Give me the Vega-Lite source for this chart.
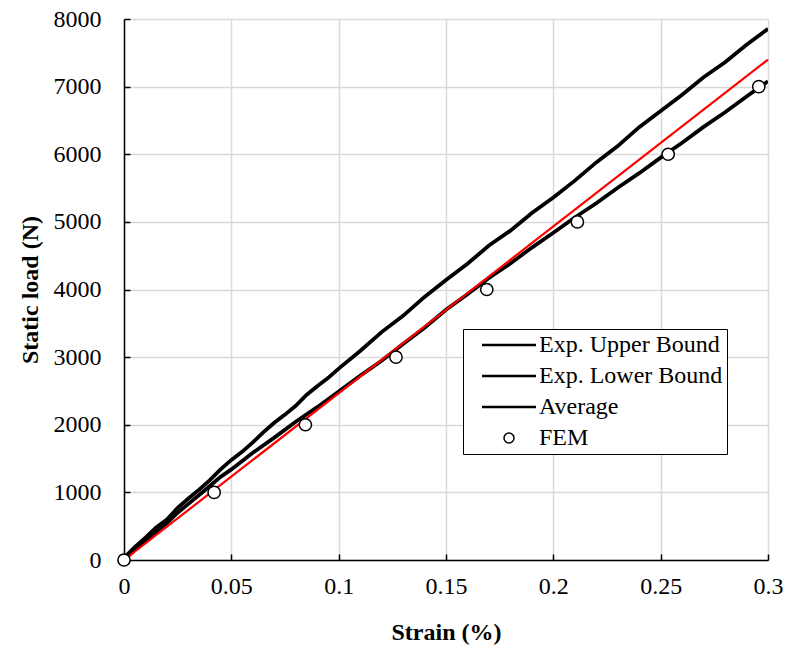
{
  "$schema": "https://vega.github.io/schema/vega-lite/v6.json",
  "width": 644,
  "height": 541,
  "autosize": {"type": "none"},
  "padding": {"left": 124, "top": 19, "right": 25, "bottom": 86},
  "background": "white",
  "config": {
    "view": {"stroke": null},
    "font": "Liberation Serif",
    "axis": {
      "labelFont": "Liberation Serif",
      "labelFontSize": 24,
      "labelColor": "black",
      "labelFlush": false,
      "titleFont": "Liberation Serif",
      "titleFontSize": 24,
      "titleFontWeight": "bold",
      "titleColor": "black",
      "domainColor": "black",
      "domainWidth": 1.5,
      "tickColor": "black",
      "tickWidth": 1.5,
      "tickSize": -6,
      "gridColor": "#d9d9d9",
      "gridWidth": 1.5
    }
  },
  "datasets": {
    "bounds": [
      {"s": "Exp. Upper Bound", "x": 0, "y": 30},
      {"s": "Exp. Upper Bound", "x": 0.005, "y": 190},
      {"s": "Exp. Upper Bound", "x": 0.01, "y": 330},
      {"s": "Exp. Upper Bound", "x": 0.015, "y": 480},
      {"s": "Exp. Upper Bound", "x": 0.02, "y": 600},
      {"s": "Exp. Upper Bound", "x": 0.025, "y": 770},
      {"s": "Exp. Upper Bound", "x": 0.03, "y": 910},
      {"s": "Exp. Upper Bound", "x": 0.035, "y": 1040},
      {"s": "Exp. Upper Bound", "x": 0.04, "y": 1180},
      {"s": "Exp. Upper Bound", "x": 0.045, "y": 1340},
      {"s": "Exp. Upper Bound", "x": 0.05, "y": 1480},
      {"s": "Exp. Upper Bound", "x": 0.055, "y": 1600},
      {"s": "Exp. Upper Bound", "x": 0.06, "y": 1740},
      {"s": "Exp. Upper Bound", "x": 0.065, "y": 1890},
      {"s": "Exp. Upper Bound", "x": 0.07, "y": 2030},
      {"s": "Exp. Upper Bound", "x": 0.075, "y": 2150},
      {"s": "Exp. Upper Bound", "x": 0.08, "y": 2280},
      {"s": "Exp. Upper Bound", "x": 0.085, "y": 2440},
      {"s": "Exp. Upper Bound", "x": 0.09, "y": 2570},
      {"s": "Exp. Upper Bound", "x": 0.095, "y": 2690},
      {"s": "Exp. Upper Bound", "x": 0.1, "y": 2830},
      {"s": "Exp. Upper Bound", "x": 0.11, "y": 3090},
      {"s": "Exp. Upper Bound", "x": 0.12, "y": 3370},
      {"s": "Exp. Upper Bound", "x": 0.13, "y": 3610},
      {"s": "Exp. Upper Bound", "x": 0.14, "y": 3890},
      {"s": "Exp. Upper Bound", "x": 0.15, "y": 4140},
      {"s": "Exp. Upper Bound", "x": 0.16, "y": 4380},
      {"s": "Exp. Upper Bound", "x": 0.17, "y": 4650},
      {"s": "Exp. Upper Bound", "x": 0.18, "y": 4870},
      {"s": "Exp. Upper Bound", "x": 0.19, "y": 5130},
      {"s": "Exp. Upper Bound", "x": 0.2, "y": 5360},
      {"s": "Exp. Upper Bound", "x": 0.21, "y": 5610},
      {"s": "Exp. Upper Bound", "x": 0.22, "y": 5880},
      {"s": "Exp. Upper Bound", "x": 0.23, "y": 6120},
      {"s": "Exp. Upper Bound", "x": 0.24, "y": 6400},
      {"s": "Exp. Upper Bound", "x": 0.25, "y": 6640},
      {"s": "Exp. Upper Bound", "x": 0.26, "y": 6880},
      {"s": "Exp. Upper Bound", "x": 0.27, "y": 7140},
      {"s": "Exp. Upper Bound", "x": 0.28, "y": 7360},
      {"s": "Exp. Upper Bound", "x": 0.29, "y": 7620},
      {"s": "Exp. Upper Bound", "x": 0.3, "y": 7855},
      {"s": "Exp. Lower Bound", "x": 0, "y": 0},
      {"s": "Exp. Lower Bound", "x": 0.005, "y": 150},
      {"s": "Exp. Lower Bound", "x": 0.01, "y": 280},
      {"s": "Exp. Lower Bound", "x": 0.015, "y": 420},
      {"s": "Exp. Lower Bound", "x": 0.02, "y": 545},
      {"s": "Exp. Lower Bound", "x": 0.025, "y": 700},
      {"s": "Exp. Lower Bound", "x": 0.03, "y": 830},
      {"s": "Exp. Lower Bound", "x": 0.035, "y": 960},
      {"s": "Exp. Lower Bound", "x": 0.04, "y": 1095},
      {"s": "Exp. Lower Bound", "x": 0.045, "y": 1230},
      {"s": "Exp. Lower Bound", "x": 0.05, "y": 1340},
      {"s": "Exp. Lower Bound", "x": 0.06, "y": 1585},
      {"s": "Exp. Lower Bound", "x": 0.07, "y": 1810},
      {"s": "Exp. Lower Bound", "x": 0.08, "y": 2045},
      {"s": "Exp. Lower Bound", "x": 0.09, "y": 2260},
      {"s": "Exp. Lower Bound", "x": 0.1, "y": 2490},
      {"s": "Exp. Lower Bound", "x": 0.11, "y": 2725},
      {"s": "Exp. Lower Bound", "x": 0.12, "y": 2945},
      {"s": "Exp. Lower Bound", "x": 0.13, "y": 3195},
      {"s": "Exp. Lower Bound", "x": 0.14, "y": 3435},
      {"s": "Exp. Lower Bound", "x": 0.15, "y": 3700},
      {"s": "Exp. Lower Bound", "x": 0.16, "y": 3930},
      {"s": "Exp. Lower Bound", "x": 0.17, "y": 4170},
      {"s": "Exp. Lower Bound", "x": 0.18, "y": 4385},
      {"s": "Exp. Lower Bound", "x": 0.19, "y": 4620},
      {"s": "Exp. Lower Bound", "x": 0.2, "y": 4840},
      {"s": "Exp. Lower Bound", "x": 0.21, "y": 5065},
      {"s": "Exp. Lower Bound", "x": 0.22, "y": 5275},
      {"s": "Exp. Lower Bound", "x": 0.23, "y": 5505},
      {"s": "Exp. Lower Bound", "x": 0.24, "y": 5720},
      {"s": "Exp. Lower Bound", "x": 0.25, "y": 5950},
      {"s": "Exp. Lower Bound", "x": 0.26, "y": 6170},
      {"s": "Exp. Lower Bound", "x": 0.27, "y": 6405},
      {"s": "Exp. Lower Bound", "x": 0.28, "y": 6620},
      {"s": "Exp. Lower Bound", "x": 0.29, "y": 6855},
      {"s": "Exp. Lower Bound", "x": 0.3, "y": 7080}
    ],
    "average": [
      {"s": "Average", "x": 0, "y": 0},
      {"s": "Average", "x": 0.3, "y": 7400}
    ],
    "fem": [
      {"s": "FEM", "x": 0, "y": 0},
      {"s": "FEM", "x": 0.042, "y": 1000},
      {"s": "FEM", "x": 0.0845, "y": 2000},
      {"s": "FEM", "x": 0.1267, "y": 3000},
      {"s": "FEM", "x": 0.169, "y": 4000},
      {"s": "FEM", "x": 0.2112, "y": 5000},
      {"s": "FEM", "x": 0.2535, "y": 6000},
      {"s": "FEM", "x": 0.2957, "y": 7000}
    ]
  },
  "encoding": {
    "x": {
      "field": "x",
      "type": "quantitative",
      "scale": {"domain": [0, 0.3], "nice": false},
      "axis": {
        "title": "Strain (%)",
        "values": [0, 0.05, 0.1, 0.15, 0.2, 0.25, 0.3],
        "format": "~g",
        "labelPadding": 20,
        "titleY": 72,
        "titleBaseline": "middle"
      }
    },
    "y": {
      "field": "y",
      "type": "quantitative",
      "scale": {"domain": [0, 8000], "nice": false},
      "axis": {
        "title": "Static load (N)",
        "values": [0, 1000, 2000, 3000, 4000, 5000, 6000, 7000, 8000],
        "format": "d",
        "labelPadding": 29,
        "titleX": -94,
        "titleBaseline": "middle"
      }
    },
    "color": {
      "field": "s",
      "type": "nominal",
      "scale": {
        "domain": ["Exp. Upper Bound", "Exp. Lower Bound", "Average", "FEM"],
        "range": ["#000000", "#000000", "#000000", "#000000"]
      },
      "legend": {
        "title": null,
        "orient": "none",
        "legendX": 339,
        "legendY": 310,
        "strokeColor": "black",
        "fillColor": "white",
        "padding": 4,
        "rowPadding": 7,
        "symbolOffset": 30,
        "labelOffset": 18,
        "labelFont": "Liberation Serif",
        "labelFontSize": 24,
        "labelColor": "black",
        "labelLimit": 400,
        "symbolSize": 2916,
        "symbolType": "stroke",
        "symbolStrokeWidth": 2.5,
        "encode": {
          "symbols": {
            "update": {
              "stroke": {"value": "black"},
              "fill": {"value": "white"},
              "shape": {"signal": "datum.value === 'FEM' ? 'circle' : 'stroke'"},
              "size": {"signal": "datum.value === 'FEM' ? 100 : 2916"},
              "strokeWidth": {"signal": "datum.value === 'FEM' ? 1.5 : 2.5"}
            }
          }
        }
      }
    }
  },
  "layer": [
    {
      "data": {"name": "bounds"},
      "mark": {"type": "line", "strokeWidth": 3.8, "clip": true}
    },
    {
      "data": {"name": "average"},
      "mark": {"type": "line", "strokeWidth": 2.2, "color": "#ff0000"},
      "encoding": {"color": {"value": "#ff0000"}}
    },
    {
      "data": {"name": "fem"},
      "mark": {"type": "point", "filled": false, "fill": "white", "fillOpacity": 1, "opacity": 1, "size": 150, "strokeWidth": 1.5}
    }
  ]
}
